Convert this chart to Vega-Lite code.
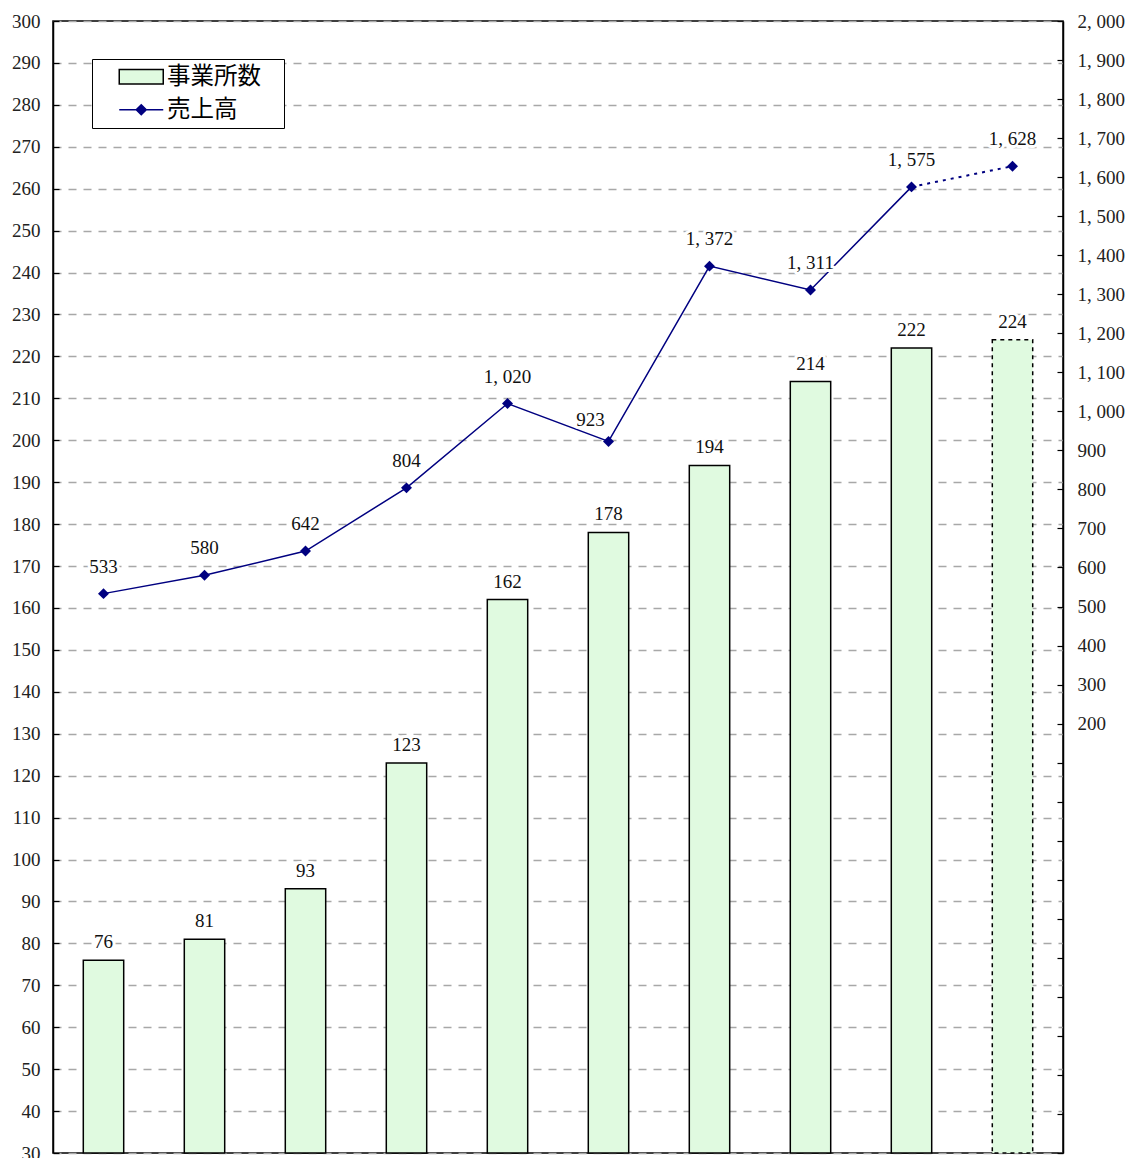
{
  "$schema": "https://vega.github.io/schema/vega-lite/v6.json",
  "width": 1010,
  "height": 1132,
  "autosize": {"type": "none"},
  "padding": {"left": 53, "top": 21, "right": 65, "bottom": 5},
  "background": "white",
  "config": {
    "view": {"stroke": "black", "strokeWidth": 1.5},
    "font": "Liberation Serif",
    "axis": {
      "labelFont": "Liberation Serif",
      "labelFontSize": 19,
      "labelColor": "#222",
      "domainColor": "black",
      "domainWidth": 1.5,
      "tickColor": "black",
      "tickWidth": 1.2,
      "tickSize": -6,
      "title": null
    }
  },
  "data": {
    "values": [
      {"idx": 1, "count": 76, "sales": 533},
      {"idx": 2, "count": 81, "sales": 580},
      {"idx": 3, "count": 93, "sales": 642},
      {"idx": 4, "count": 123, "sales": 804},
      {"idx": 5, "count": 162, "sales": 1020},
      {"idx": 6, "count": 178, "sales": 923},
      {"idx": 7, "count": 194, "sales": 1372},
      {"idx": 8, "count": 214, "sales": 1311},
      {"idx": 9, "count": 222, "sales": 1575},
      {"idx": 10, "count": 224, "sales": 1628}
    ]
  },
  "encoding": {
    "x": {"field": "idx", "type": "ordinal", "scale": {"paddingInner": 0.6, "paddingOuter": 0.3}, "axis": null}
  },
  "layer": [
    {
      "encoding": {
        "y": {
          "field": "count",
          "type": "quantitative",
          "scale": {"domain": [30, 300], "zero": false, "nice": false},
          "axis": {
            "orient": "left",
            "values": [30,40,50,60,70,80,90,100,110,120,130,140,150,160,170,180,190,200,210,220,230,240,250,260,270,280,290,300],
            "grid": true,
            "gridDash": [8, 7],
            "gridColor": "#a8a8a8",
            "gridWidth": 1.5,
            "labelPadding": 19
          }
        }
      },
      "layer": [
        {
          "mark": {"type": "bar", "stroke": "black", "strokeWidth": 1.5},
          "encoding": {
            "y2": {"datum": 30},
            "fill": {
              "datum": "事業所数",
              "scale": {"domain": ["事業所数", "売上高"], "range": ["#e0fae0", "#000080"]},
              "legend": {
                "orient": "none",
                "legendX": 39,
                "legendY": 38,
                "title": ".",
                "titleOrient": "right",
                "titleColor": "white",
                "titleFontSize": 6,
                "titlePadding": 15,
                "direction": "vertical",
                "padding": 6,
                "strokeColor": "black",
                "fillColor": "white",
                "cornerRadius": 0,
                "symbolSize": 400,
                "symbolOffset": 31.5,
                "labelOffset": 14,
                "labelFont": "Noto Sans CJK JP",
                "labelFontSize": 23.5,
                "labelColor": "black",
                "rowPadding": 8,
                "symbolType": {"expr": "datum.value === '事業所数' ? 'M-2.2,-0.72H2.2V0.72H-2.2Z' : 'M-2.2,0H2.2M0,-0.5L0.5,0L0,0.5L-0.5,0Z'"},
                "symbolStrokeColor": {"expr": "datum.value === '事業所数' ? 'black' : '#000080'"},
                "symbolStrokeWidth": 1.5,
                "symbolOpacity": 1
              }
            },
            "strokeDash": {"condition": {"test": "datum.idx == 10", "value": [4, 4]}, "value": [1, 0]}
          }
        },
        {
          "mark": {"type": "text", "stroke": "white", "strokeWidth": 6, "strokeJoin": "round", "fill": "white", "dy": -18, "fontSize": 19, "baseline": "middle"},
          "encoding": {"text": {"field": "count", "type": "quantitative"}}
        },
        {
          "mark": {"type": "text", "fill": "#111", "dy": -18, "fontSize": 19, "baseline": "middle"},
          "encoding": {"text": {"field": "count", "type": "quantitative"}}
        }
      ]
    },
    {
      "transform": [
        {"calculate": "replace(format(datum.sales, ','), ',', ', ')", "as": "lbl"}
      ],
      "encoding": {
        "y": {
          "field": "sales",
          "type": "quantitative",
          "scale": {"domain": [-900, 2000], "zero": false, "nice": false},
          "axis": {
            "orient": "right",
            "values": [-900,-800,-700,-600,-500,-400,-300,-200,-100,0,100,200,300,400,500,600,700,800,900,1000,1100,1200,1300,1400,1500,1600,1700,1800,1900,2000],
            "labelExpr": "datum.value >= 200 ? replace(format(datum.value, ','), ',', ', ') : ''",
            "grid": false,
            "labelPadding": 20
          }
        }
      },
      "layer": [
        {
          "transform": [{"filter": "datum.idx <= 9"}],
          "mark": {"type": "line", "color": "#000080", "strokeWidth": 1.5},
          "encoding": {}
        },
        {
          "transform": [{"filter": "datum.idx >= 9"}],
          "mark": {"type": "line", "color": "#000080", "strokeWidth": 2, "strokeDash": [3, 5]},
          "encoding": {}
        },
        {
          "mark": {"type": "point", "shape": "diamond", "filled": true, "size": 120, "color": "#000080", "opacity": 1},
          "encoding": {}
        },
        {
          "transform": [{"filter": "datum.idx != 6"}],
          "layer": [
            {
              "mark": {"type": "text", "stroke": "white", "strokeWidth": 6, "strokeJoin": "round", "fill": "white", "dy": -27, "fontSize": 19, "baseline": "middle"},
              "encoding": {"text": {"field": "lbl", "type": "nominal"}}
            },
            {
              "mark": {"type": "text", "fill": "#111", "dy": -27, "fontSize": 19, "baseline": "middle"},
              "encoding": {"text": {"field": "lbl", "type": "nominal"}}
            }
          ]
        },
        {
          "transform": [{"filter": "datum.idx == 6"}],
          "layer": [
            {
              "mark": {"type": "text", "stroke": "white", "strokeWidth": 6, "strokeJoin": "round", "fill": "white", "dx": -18, "dy": -21, "fontSize": 19, "baseline": "middle"},
              "encoding": {"text": {"field": "lbl", "type": "nominal"}}
            },
            {
              "mark": {"type": "text", "fill": "#111", "dx": -18, "dy": -21, "fontSize": 19, "baseline": "middle"},
              "encoding": {"text": {"field": "lbl", "type": "nominal"}}
            }
          ]
        }
      ]
    }
  ],
  "resolve": {"scale": {"y": "independent"}}
}
